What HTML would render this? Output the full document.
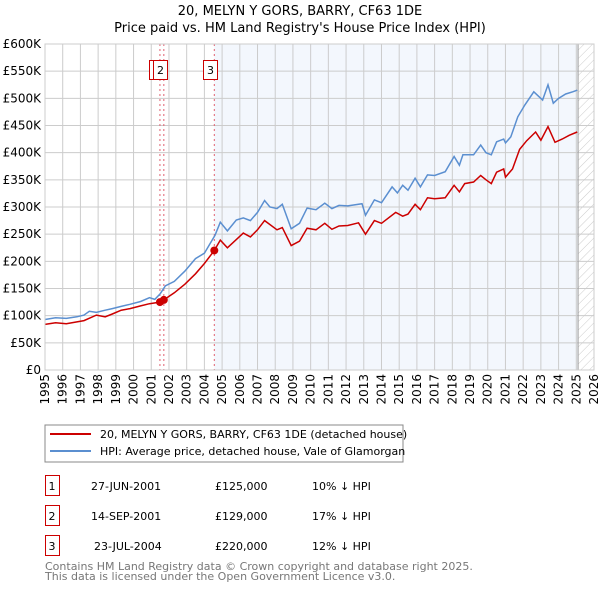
<!DOCTYPE html>
<html><head><meta charset="utf-8"><style>
body{margin:0;background:#fff;font-family:"DejaVu Sans","Liberation Sans",sans-serif}
svg text{font-family:"DejaVu Sans","Liberation Sans",sans-serif}
</style></head><body>
<svg id="c" width="600" height="590" xmlns="http://www.w3.org/2000/svg">
<defs><pattern id="hatch" width="6" height="6" patternUnits="userSpaceOnUse" patternTransform="rotate(45)"><line x1="0" y1="0" x2="0" y2="6" stroke="#ccc" stroke-width="1"/></pattern></defs>
<text x="300" y="15" text-anchor="middle" font-size="13">20, MELYN Y GORS, BARRY, CF63 1DE</text>
<text x="300" y="32" text-anchor="middle" font-size="13">Price paid vs. HM Land Registry's House Price Index (HPI)</text>
<g id="plot"></g>
<rect x="45" y="425" width="358" height="37" fill="#fff" stroke="#888"/>
<line x1="50" y1="434" x2="91" y2="434" stroke="#cc0000" stroke-width="2"/>
<text x="100" y="438" font-size="11">20, MELYN Y GORS, BARRY, CF63 1DE (detached house)</text>
<line x1="50" y1="451" x2="91" y2="451" stroke="#5b8fd0" stroke-width="2"/>
<text x="100" y="455" font-size="11">HPI: Average price, detached house, Vale of Glamorgan</text>
<g font-size="11">
<rect x="45.5" y="475.5" width="14" height="20" fill="none" stroke="#cc0000"/><text x="52" y="490" text-anchor="middle">1</text>
<text x="91" y="490">27-JUN-2001</text><text x="215" y="490">£125,000</text><text x="312" y="490">10% ↓ HPI</text>
<rect x="45.5" y="505.5" width="14" height="20" fill="none" stroke="#cc0000"/><text x="52" y="520" text-anchor="middle">2</text>
<text x="91" y="520">14-SEP-2001</text><text x="215" y="520">£129,000</text><text x="312" y="520">17% ↓ HPI</text>
<rect x="45.5" y="535.5" width="14" height="20" fill="none" stroke="#cc0000"/><text x="52" y="550" text-anchor="middle">3</text>
<text x="94" y="550">23-JUL-2004</text><text x="215" y="550">£220,000</text><text x="312" y="550">12% ↓ HPI</text>
</g>
<text x="45" y="570" font-size="11" fill="#777">Contains HM Land Registry data © Crown copyright and database right 2025.</text>
<text x="45" y="580" font-size="11" fill="#777">This data is licensed under the Open Government Licence v3.0.</text>
</svg>
<script>
const yTicks=[0,50000,100000,150000,200000,250000,300000,350000,400000,450000,500000,550000,600000];
const yTickLabels=["£0","£50K","£100K","£150K","£200K","£250K","£300K","£350K","£400K","£450K","£500K","£550K","£600K"];
const xYears=[1995,1996,1997,1998,1999,2000,2001,2002,2003,2004,2005,2006,2007,2008,2009,2010,2011,2012,2013,2014,2015,2016,2017,2018,2019,2020,2021,2022,2023,2024,2025,2026];
const hpiDates=[1995.0,1995.6,1996.2,1996.8,1997.2,1997.5,1997.9,1998.4,1998.8,1999.3,1999.8,2000.4,2000.9,2001.2,2001.5,2001.8,2002.3,2002.9,2003.5,2004.0,2004.6,2004.9,2005.3,2005.8,2006.2,2006.6,2007.0,2007.4,2007.7,2008.1,2008.4,2008.9,2009.37,2009.8,2010.3,2010.8,2011.2,2011.6,2012.1,2012.9,2013.1,2013.6,2014.0,2014.6,2014.9,2015.2,2015.5,2015.9,2016.2,2016.6,2017.0,2017.6,2018.1,2018.4,2018.6,2019.2,2019.6,2019.9,2020.2,2020.5,2020.9,2021.0,2021.3,2021.7,2022.1,2022.6,2023.1,2023.4,2023.7,2024.0,2024.4,2024.8,2025.05];
const hpiValues=[93000,96000,95000,98000,101000,108000,106000,110000,113000,117000,121000,126000,133000,130000,140000,155000,163000,182000,205000,215000,248000,272000,256000,276000,280000,275000,290000,312000,300000,297000,305000,260000,270000,298000,295000,307000,297000,303000,302000,306000,285000,313000,308000,337000,326000,340000,331000,353000,337000,359000,358000,365000,393000,377000,396000,396000,414000,400000,396000,420000,425000,418000,429000,466000,488000,512000,497000,525000,491000,500000,508000,512000,515000];
const ppDates=[1995.0,1995.6,1996.2,1997.2,1997.9,1998.4,1998.8,1999.3,1999.8,2000.4,2000.9,2001.49,2001.71,2002.3,2002.9,2003.5,2004.0,2004.56,2004.9,2005.3,2005.8,2006.2,2006.6,2007.0,2007.4,2008.1,2008.4,2008.9,2009.37,2009.8,2010.3,2010.8,2011.2,2011.6,2012.1,2012.7,2013.1,2013.6,2014.0,2014.8,2015.2,2015.5,2015.9,2016.2,2016.6,2017.0,2017.6,2018.1,2018.4,2018.7,2019.2,2019.6,2019.9,2020.2,2020.5,2020.9,2021.0,2021.4,2021.8,2022.2,2022.7,2023.0,2023.4,2023.8,2024.2,2024.6,2025.05];
const ppValues=[84000,87000,85000,91000,101000,98000,103000,110000,113000,118000,122000,125000,129000,142000,158000,177000,196000,220000,239000,225000,240000,252000,245000,258000,275000,258000,262000,229000,237000,261000,258000,270000,259000,265000,266000,271000,250000,275000,270000,290000,283000,287000,305000,295000,317000,315000,317000,340000,328000,343000,346000,358000,350000,343000,364000,370000,355000,370000,406000,422000,438000,423000,448000,419000,425000,432000,438000];
const saleDates=[2001.49,2001.71,2004.56];
const salePrices=[125000,129000,220000];
const saleLabels=["1","2","3"];
const NS="http://www.w3.org/2000/svg";
const L=45,R=594,T=44,B=370,Y0=1995,Y1=2026,VMAX=600000;
const xs=d=>L+(d-Y0)/(Y1-Y0)*(R-L);
const ys=v=>B-v/VMAX*(B-T);
const g=document.getElementById('plot');
function mk(tag,attrs){const e=document.createElementNS(NS,tag);for(const k in attrs)e.setAttribute(k,attrs[k]);g.appendChild(e);return e;}
let e;
e=mk('rect',{x:xs(2004.56),y:T,width:xs(2025.1)-xs(2004.56),height:B-T,fill:'#eef3fc',opacity:0.7});


e=mk('rect',{x:xs(2025.1),y:T,width:R-xs(2025.1),height:B-T,fill:'url(#hatch)'});


yTicks.forEach((v,i)=>{
 e=mk('line',{x1:L,x2:R,y1:ys(v),y2:ys(v),stroke:'#ccc','stroke-width':1});
 
 
 e=mk('text',{x:L-4,y:ys(v)+4,'text-anchor':'end','font-size':12});
 e.textContent=yTickLabels[i];
 
 
});
xYears.forEach(y=>{
 e=mk('line',{x1:xs(y),x2:xs(y),y1:T,y2:B,stroke:'#ccc','stroke-width':1});
 
 
 e=mk('text',{x:0,y:0,'text-anchor':'end','font-size':12,transform:`translate(${xs(y)+4},${B+4}) rotate(-90)`});
 e.textContent=y;
 
 
});
e=mk('line',{x1:xs(2025.1),x2:xs(2025.1),y1:T,y2:B,stroke:'#999','stroke-width':1});


saleDates.forEach((d,i)=>{
 e=mk('line',{x1:xs(d),x2:xs(d),y1:T,y2:B,stroke:'#e06070','stroke-width':1,'stroke-dasharray':'2,3'});
 
 
});
function path(dates,vals){return dates.map((d,i)=>(i?'L':'M')+xs(d).toFixed(1)+','+ys(vals[i]).toFixed(1)).join('');}
e=mk('path',{d:path(hpiDates,hpiValues),fill:'none',stroke:'#5b8fd0','stroke-width':1.5});


e=mk('path',{d:path(ppDates,ppValues),fill:'none',stroke:'#cc0000','stroke-width':1.5});


saleDates.forEach((d,i)=>{
 e=mk('circle',{cx:xs(d),cy:ys(salePrices[i]),r:4,fill:'#cc0000'});
 
 
});
saleDates.forEach((d,i)=>{
 const bx=Math.round(xs(d)-11)+0.5;
 e=mk('rect',{x:bx,y:60.5,width:14,height:19,fill:'#fff',stroke:'#cc0000'});
 
 
 e=mk('text',{x:bx+7,y:74,'text-anchor':'middle','font-size':11});
 e.textContent=saleLabels[i];
 
 
});
e=mk('rect',{x:L,y:T,width:R-L,height:B-T,fill:'none',stroke:'#ccc'});


</script>
</body></html>
